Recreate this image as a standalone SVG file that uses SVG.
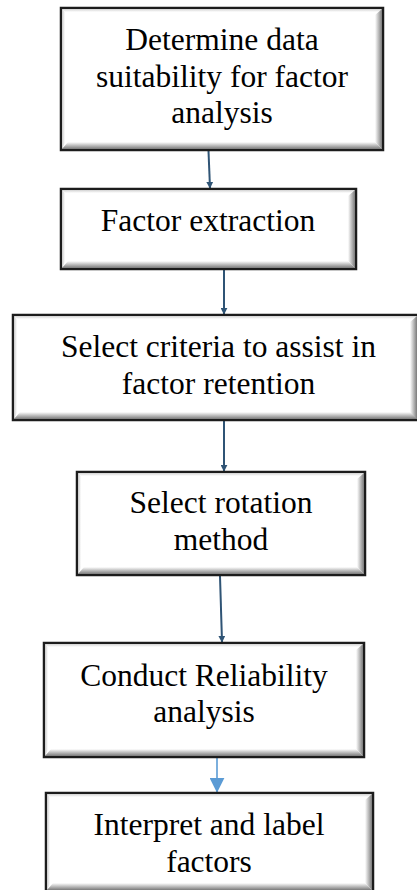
<svg xmlns="http://www.w3.org/2000/svg" width="417" height="890" viewBox="0 0 417 890">
<defs>
<style>
.box{fill:#ffffff;stroke:#1c1c1c;stroke-width:2.5}
.bb{fill:url(#gB)}
.br{fill:url(#gR)}
.bl{fill:url(#gL)}
.bt{fill:url(#gT)}
.lbl{font-family:"Liberation Serif","Times New Roman",serif;font-size:31.5px;fill:#000;text-anchor:middle}
.con{stroke:#2f5475;stroke-width:2;fill:none}
.con2{stroke:#5b9bd5;stroke-width:1.6;fill:none}
</style>
<linearGradient id="gB" x1="0" y1="0" x2="0" y2="1"><stop offset="0" stop-color="#ffffff"/><stop offset="1" stop-color="#7a7a7a"/></linearGradient>
<linearGradient id="gR" x1="0" y1="0" x2="1" y2="0"><stop offset="0" stop-color="#ffffff"/><stop offset="1" stop-color="#7a7a7a"/></linearGradient>
<linearGradient id="gL" x1="0" y1="0" x2="1" y2="0"><stop offset="0" stop-color="#c8c8c8"/><stop offset="1" stop-color="#ffffff"/></linearGradient>
<linearGradient id="gT" x1="0" y1="0" x2="0" y2="1"><stop offset="0" stop-color="#d2d2d2"/><stop offset="1" stop-color="#ffffff"/></linearGradient>
<marker id="ah" viewBox="0 0 10 10" refX="9" refY="5" markerWidth="7" markerHeight="7" markerUnits="userSpaceOnUse" orient="auto"><path d="M0,0 L10,5 L0,10 z" fill="#2f5475"/></marker>
<marker id="ah2" viewBox="0 0 10 10" refX="9.5" refY="5" markerWidth="15" markerHeight="15" markerUnits="userSpaceOnUse" orient="auto"><path d="M0,0 L10,5 L0,10 z" fill="#5b9bd5"/></marker>
</defs>

<g id="connectors">
<line class="con" x1="208.5" y1="151" x2="210" y2="188" marker-end="url(#ah)"/>
<line class="con" x1="224" y1="270" x2="224" y2="314" marker-end="url(#ah)"/>
<line class="con" x1="224" y1="421" x2="224" y2="471" marker-end="url(#ah)"/>
<line class="con" x1="220" y1="576" x2="222" y2="642" marker-end="url(#ah)"/>
<line class="con2" x1="217" y1="758" x2="217" y2="792" marker-end="url(#ah2)"/>
</g>

<g id="node1">
<rect class="box" x="61" y="8" width="322" height="142"/>
<polygon class="bt" points="62,9 382,9 379,12 65,12"/>
<polygon class="bl" points="62,9 65,12 65,143 62,149"/>
<polygon class="bb" points="62,149 382,149 375,142 68,142"/>
<polygon class="br" points="382,9 382,149 375,142 375,15"/>
<text class="lbl" x="222" y="50">Determine data</text>
<text class="lbl" x="222" y="86.5">suitability for factor</text>
<text class="lbl" x="222" y="123">analysis</text>
</g>

<g id="node2">
<rect class="box" x="61" y="189" width="295" height="80"/>
<polygon class="bt" points="62,190 355,190 352,193 65,193"/>
<polygon class="bl" points="62,190 65,193 65,262 62,268"/>
<polygon class="bb" points="62,268 355,268 348,261 68,261"/>
<polygon class="br" points="355,190 355,268 348,261 348,196"/>
<text class="lbl" x="208" y="231">Factor extraction</text>
</g>

<g id="node3">
<rect class="box" x="13" y="315" width="420" height="105"/>
<polygon class="bt" points="14,316 432,316 429,319 17,319"/>
<polygon class="bl" points="14,316 17,319 17,413 14,419"/>
<polygon class="bb" points="14,419 432,419 425,412 20,412"/>
<polygon class="br" points="417,316 417,419 410,412 410,322"/>
<text class="lbl" x="218.5" y="357">Select criteria to assist in</text>
<text class="lbl" x="218.5" y="394">factor retention</text>
</g>

<g id="node4">
<rect class="box" x="77" y="472" width="288" height="103"/>
<polygon class="bt" points="78,473 364,473 361,476 81,476"/>
<polygon class="bl" points="78,473 81,476 81,568 78,574"/>
<polygon class="bb" points="78,574 364,574 357,567 84,567"/>
<polygon class="br" points="364,473 364,574 357,567 357,479"/>
<text class="lbl" x="221" y="513">Select rotation</text>
<text class="lbl" x="221" y="549.5">method</text>
</g>

<g id="node5">
<rect class="box" x="44" y="643" width="320" height="114"/>
<polygon class="bt" points="45,644 363,644 360,647 48,647"/>
<polygon class="bl" points="45,644 48,647 48,750 45,756"/>
<polygon class="bb" points="45,756 363,756 356,749 51,749"/>
<polygon class="br" points="363,644 363,756 356,749 356,650"/>
<text class="lbl" x="204" y="686">Conduct Reliability</text>
<text class="lbl" x="204" y="722">analysis</text>
</g>

<g id="node6">
<rect class="box" x="46" y="793" width="327" height="98"/>
<polygon class="bt" points="47,794 372,794 369,797 50,797"/>
<polygon class="bl" points="47,794 50,797 50,884 47,890"/>
<polygon class="bb" points="47,890 372,890 365,883 53,883"/>
<polygon class="br" points="372,794 372,890 365,883 365,800"/>
<text class="lbl" x="209" y="835">Interpret and label</text>
<text class="lbl" x="209" y="871.5">factors</text>
</g>
</svg>
